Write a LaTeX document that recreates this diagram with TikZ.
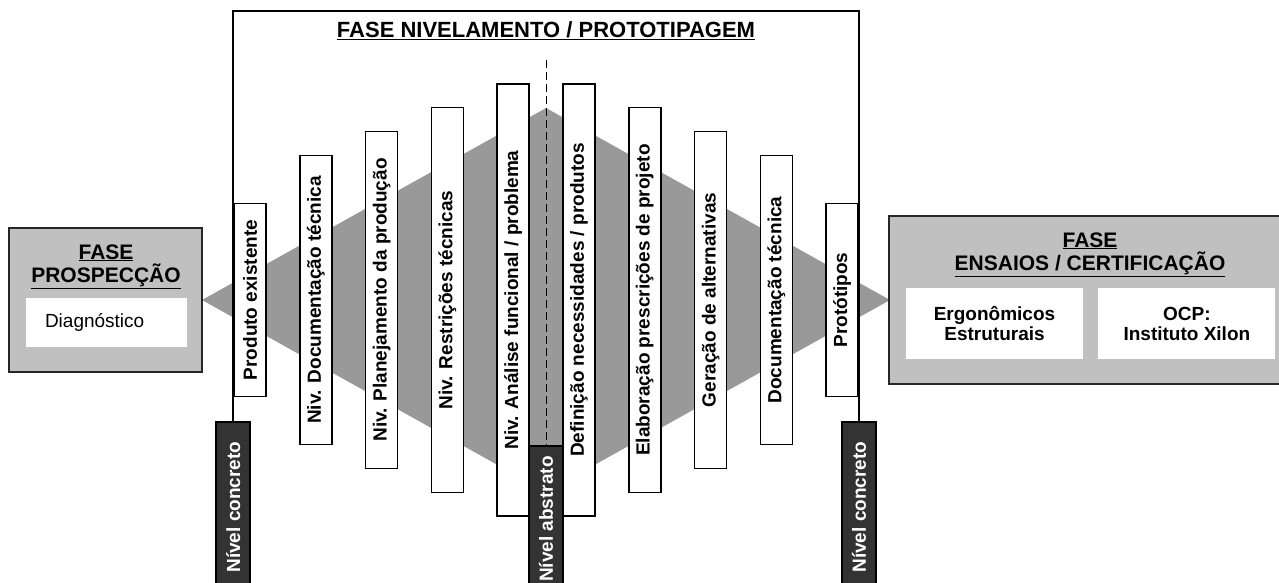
\documentclass[tikz,border=0pt]{standalone}
\usepackage{fontspec}
\setmainfont{Liberation Sans}
\usetikzlibrary{positioning,calc}
\definecolor{boxgray}{HTML}{C0C0C0}
\definecolor{diagray}{HTML}{999999}
\definecolor{darkbar}{HTML}{333333}
\tikzset{
  bar/.style={draw,line width=1.6pt,fill=white,minimum width=32pt,inner sep=0pt,font=\fontsize{19}{21}\selectfont\bfseries},
  lowbar/.style={draw=black,line width=1.6pt,fill=darkbar,text=white,minimum width=34pt,inner sep=0pt,anchor=north,font=\fontsize{19}{21}\selectfont\bfseries},
  phase/.style={draw=black!85,line width=1.8pt,fill=boxgray},
  inbox/.style={fill=white,inner sep=0pt,align=center,font=\fontsize{19}{20}\selectfont\bfseries},
  ttl/.style={font=\fontsize{21}{23}\selectfont\bfseries,align=center,inner sep=0pt},
  frame/.style={line width=1.6pt}
}

\begin{document}
\begin{tikzpicture}[x=1pt,y=-1pt,node distance=32.2pt]
\clip (0,0) rectangle (1279,582);
\fill[diagray] (202,300) -- (546,108) -- (890,300) -- (546,492) -- cycle;

\node[phase,minimum width=193pt,minimum height=144pt] (prosp) at (105.5,300) {};
\node[ttl,anchor=base] (prospT) at (106,282) {\underline{FASE}\\\underline{PROSPECÇÃO}};
\node[inbox,minimum width=161pt,minimum height=49pt,text width=123pt,inner xsep=19pt,align=left,font=\fontsize{19}{20}\selectfont] (diag) at (106.5,322.5) {Diagnóstico};

\node[phase,minimum width=404pt,minimum height=168pt] (ensaios) at (1091,300) {};
\node[ttl,anchor=base] (ensaiosT) at (1090,270) {\underline{FASE}\\\underline{ENSAIOS / CERTIFICAÇÃO}};
\node[inbox,minimum width=177pt,minimum height=71pt] (ergo) at (994.5,323.5) {Ergonômicos\\Estruturais};
\node[inbox,minimum width=177pt,minimum height=71pt,right=15pt of ergo] (ocp) {OCP:\\Instituto Xilon};

\node[ttl,anchor=base,font=\fontsize{22}{24}\selectfont\bfseries] (title) at (546,37) {\underline{FASE NIVELAMENTO / PROTOTIPAGEM}};

\node[bar,minimum height=193pt] (b1) at (250,300) {\rotatebox{90}{Produto existente}};
\node[bar,minimum height=289pt,right=of b1] (b2) {\rotatebox{90}{Niv. Documentação técnica}};
\node[bar,minimum height=337pt,right=of b2] (b3) {\rotatebox{90}{Niv. Planejamento da produção}};
\node[bar,minimum height=385pt,right=of b3] (b4) {\rotatebox{90}{Niv. Restrições técnicas}};
\node[bar,minimum height=432pt,right=of b4] (b5) {\rotatebox{90}{Niv. Análise funcional / problema}};
\node[bar,minimum height=432pt,right=of b5] (b6) {\rotatebox{90}{Definição necessidades / produtos}};
\node[bar,minimum height=385pt,right=of b6] (b7) {\rotatebox{90}{Elaboração prescrições de projeto}};
\node[bar,minimum height=337pt,right=of b7] (b8) {\rotatebox{90}{Geração de alternativas}};
\node[bar,minimum height=289pt,right=of b8] (b9) {\rotatebox{90}{Documentação técnica}};
\node[bar,minimum height=193pt,right=of b9] (b10) {\rotatebox{90}{Protótipos}};

\node[lowbar,minimum height=170pt,below=24pt of b1.south west] (lowL) {\rotatebox{90}{Nível concreto}};
\node[lowbar,minimum height=170pt,below=24pt of b10.south east] (lowR) {\rotatebox{90}{Nível concreto}};
\coordinate (mid) at ($(b5.east)!0.5!(b6.west)$);
\node[lowbar,minimum height=146pt] (lowM) at (mid |- b2.south) {\rotatebox{90}{Nível abstrato}};

\coordinate (fr) at (b10.east |- 0,11);
\coordinate (dtop) at (mid |- 0,60);
\draw[frame] (lowL.north) |- (fr) -- (lowR.north);
\draw[line width=1pt,dash pattern=on 8pt off 4pt] (dtop) -- (lowM.north);
\end{tikzpicture}
\end{document}
